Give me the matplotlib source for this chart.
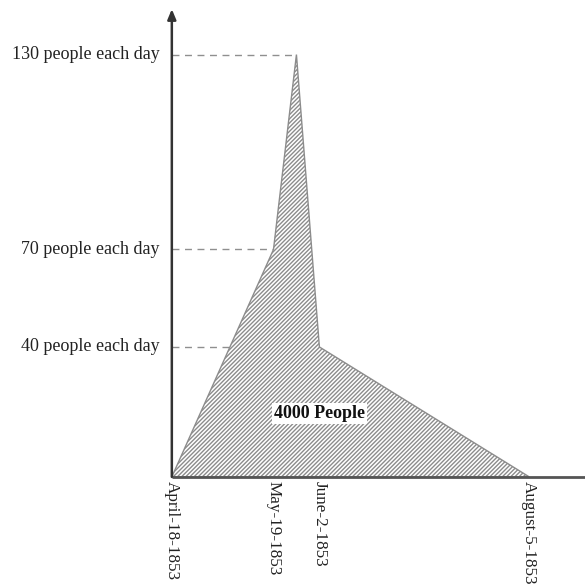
import numpy as np
import matplotlib
matplotlib.use("Agg")
import matplotlib.pyplot as plt

# outline of the epidemic curve (people per day)
point_dates = ["1853-04-18", "1853-05-19", "1853-05-26", "1853-06-02", "1853-08-05"]
point_rates = [0, 70, 130, 40, 0]

tick_dates = ["1853-04-18", "1853-05-19", "1853-06-02", "1853-08-05"]
tick_labels = ["April-18-1853", "May-19-1853", "June-2-1853", "August-5-1853"]

level_rates = [130, 70, 40]
level_labels = ["130 people each day", "70 people each day", "40 people each day"]
total_label = "4000 People"

start = np.datetime64(point_dates[0])
days = [(np.datetime64(d) - start).astype(int) for d in point_dates]
tick_days = [(np.datetime64(d) - start).astype(int) for d in tick_dates]

plt.rcParams["font.family"] = ["Liberation Serif", "DejaVu Serif"]
plt.rcParams["hatch.linewidth"] = 1.0
plt.rcParams["hatch.color"] = "#8c8c8c"

fig = plt.figure(figsize=(5.85, 5.88), dpi=100)
ax = fig.add_axes([0, 0, 1, 1])
ax.set_xlim(-52.4, 126)
ax.set_ylim(-34.2, 146.8)
ax.axis("off")

ax.fill(days, point_rates, facecolor="white", edgecolor="#8c8c8c",
        hatch="////////", linewidth=1.0, zorder=2)

# dashed guides from the axis to each level
for rate, label in zip(level_rates, level_labels):
    idx = point_rates.index(rate)
    ax.plot([0, days[idx]], [rate, rate], linestyle=(0, (5, 4)),
            color="#8f8f8f", linewidth=1.0, zorder=1)
    ax.text(-3.7, rate, label, ha="right", va="center", fontsize=13,
            color="#222222")

# axes with arrow
ax.plot([0, 126], [0, 0], color="#555555", linewidth=2, zorder=3,
        solid_capstyle="butt")
ax.annotate("", xy=(0, 144), xytext=(0, 0),
            arrowprops=dict(arrowstyle="-|>,head_width=0.25,head_length=0.6",
                            color="#333333", lw=1.8, shrinkA=0, shrinkB=0),
            zorder=3)

for d, lab in zip(tick_days, tick_labels):
    ax.text(d, -1.3, lab, rotation=270, ha="center", va="top", fontsize=12.3,
            color="#222222")

ax.text(45, 19.5, total_label, ha="center", va="center", fontsize=13,
        fontweight="bold", color="#111111", zorder=4,
        bbox=dict(facecolor="white", edgecolor="none", pad=1.5))

fig.savefig("out.png", dpi=100)
